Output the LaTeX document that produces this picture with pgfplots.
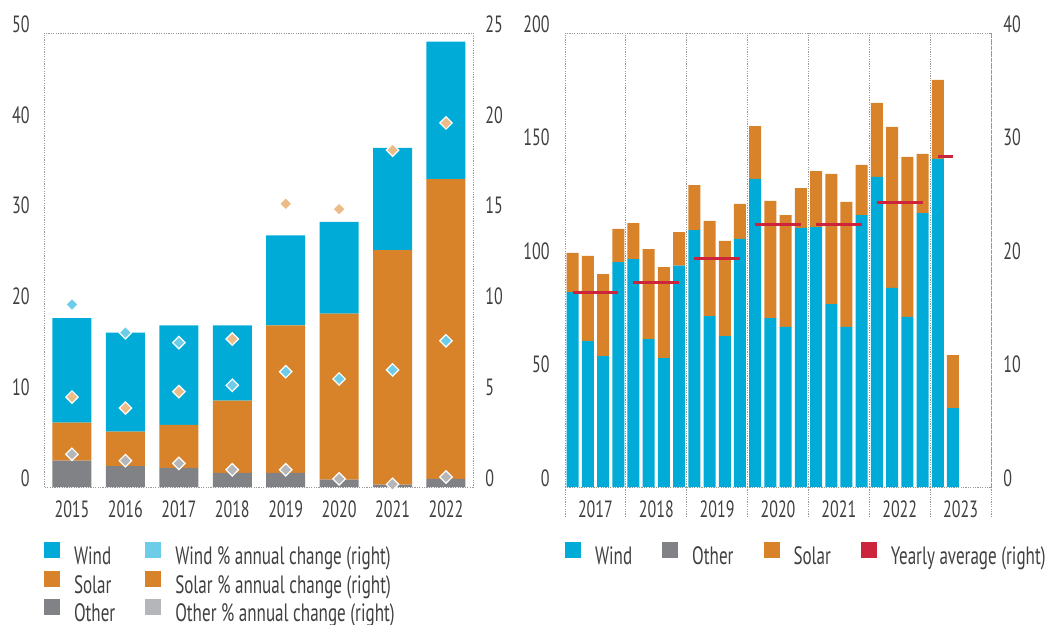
\documentclass[border=0pt]{standalone}
\usepackage{fontspec}
\setmainfont{PT Sans}[FakeStretch=0.68]
\usepackage{pgfplots}
\pgfplotsset{compat=1.18}
\definecolor{wind}{HTML}{00ACD7}
\definecolor{solar}{HTML}{D8832A}
\definecolor{other}{HTML}{818286}
\definecolor{windp}{HTML}{6DCDE8}
\definecolor{solarp}{HTML}{EBBB88}
\definecolor{otherp}{HTML}{B5B6BA}
\definecolor{avg}{HTML}{CC243C}
\definecolor{txt}{HTML}{404040}
\definecolor{frm}{HTML}{999999}
\newcommand\tickfont{\fontsize{11.8}{13}\selectfont}
\newcommand\legfont{\fontsize{12.6}{15}\selectfont}
\pgfplotsset{
  base/.style={
    scale only axis, height=227bp, anchor=south west,
    /pgf/number format/assume math mode=true,
    tick label style={font=\tickfont, text=txt, inner sep=0pt},
    major tick length=0pt, ymin=0,
    axis line style={frm, line width=0.5bp, dash pattern=on 0.6bp off 0.6bp},
    xticklabel style={yshift=-6.5bp},
  },
  leg/.style={
    legend style={at={(0,0)}, anchor=north west, yshift=#1,
      draw=none, fill=none, inner sep=0pt, outer sep=0pt,
      font=\legfont, text=txt, row sep=0.3bp,
      nodes={inner sep=0pt, text height=9bp, text depth=2.5bp},
      /tikz/every odd column/.append style={column sep=7bp},
      /tikz/every even column/.append style={column sep=15bp}},
    legend cell align=left,
    legend image code/.code={\path[##1, draw=none] (0bp,0bp) rectangle (8bp,8bp);},
  },
  pmark/.style={only marks, mark=square*, mark size=2.2bp,
    mark options={rotate=45, fill=#1, draw=white, line width=0.6bp}, forget plot},
}
\begin{document}
\begin{tikzpicture}
\useasboundingbox (0,0) rectangle (523bp,-312.5bp);
% ---------------- left chart ----------------
\begin{axis}[base, at={(22bp,-243.5bp)}, width=214.5bp,
  ybar stacked, bar width=19.5bp,
  xmin=2014.476, xmax=2022.506, ymax=50, ytick={0,10,20,30,40,50},
  yticklabel style={xshift=-7bp, yshift=4.5bp},
  xtick={2015,2016,2017,2018,2019,2020,2021,2022},
  xticklabels={2015,2016,2017,2018,2019,2020,2021,2022}]
\addplot[fill=other, draw=none] coordinates {(2015,2.9) (2016,2.3) (2017,2.1) (2018,1.55) (2019,1.55) (2020,0.8) (2021,0.25) (2022,0.9)};
\addplot[fill=solar, draw=none] coordinates {(2015,4.2) (2016,3.8) (2017,4.75) (2018,7.95) (2019,16.25) (2020,18.3) (2021,25.85) (2022,33.0)};
\addplot[fill=wind, draw=none] coordinates {(2015,11.5) (2016,10.9) (2017,10.95) (2018,8.3) (2019,9.9) (2020,10.1) (2021,11.25) (2022,15.15)};
\end{axis}
\begin{axis}[base, leg=-27.7bp, legend columns=2, at={(22bp,-243.5bp)}, width=214.5bp,
  xmin=2014.476, xmax=2022.506, ymax=25, ytick={0,5,10,15,20,25},
  axis y line*=right, axis x line=none, y axis line style={draw=none},
  yticklabel style={xshift=6bp, yshift=4.5bp}]
\addlegendimage{fill=wind, draw=none}\addlegendentry{Wind}
\addlegendimage{fill=windp, draw=none}\addlegendentry{Wind \% annual change (right)}
\addlegendimage{fill=solar, draw=none}\addlegendentry{Solar}
\addlegendimage{fill=solar, draw=none}\addlegendentry{Solar \% annual change (right)}
\addlegendimage{fill=other, draw=none}\addlegendentry{Other}
\addlegendimage{fill=otherp, draw=none}\addlegendentry{Other \% annual change (right)}
\addplot[pmark=windp] coordinates {(2015,10.05) (2016,8.5) (2017,7.95) (2018,5.6) (2019,6.35) (2020,5.95) (2021,6.45) (2022,8.05)};
\addplot[pmark=solarp] coordinates {(2015,4.95) (2016,4.35) (2017,5.25) (2018,8.15) (2019,15.6) (2020,15.3) (2021,18.55) (2022,20.05)};
\addplot[pmark=otherp] coordinates {(2015,1.8) (2016,1.45) (2017,1.3) (2018,0.95) (2019,0.95) (2020,0.45) (2021,0.15) (2022,0.55)};
\end{axis}
% ---------------- right chart ----------------
\begin{axis}[base, at={(282.5bp,-243.5bp)}, width=213bp,
  ybar stacked, bar width=6bp,
  xmin=-0.5, xmax=27.5, ymax=200, ytick={0,50,100,150,200},
  yticklabel style={xshift=-7.5bp, yshift=4.5bp},
  xtick={1.5,5.5,9.5,13.5,17.5,21.5,25.5},
  xticklabels={2017,2018,2019,2020,2021,2022,2023},
  minor xtick={-0.5,3.5,7.5,11.5,15.5,19.5,23.5,27.5},
  xminorgrids, minor grid style={frm, line width=0.5bp, dash pattern=on 0.6bp off 0.6bp},
  minor tick length=15bp, tick align=outside, xtick pos=bottom,
  minor tick style={frm, line width=0.5bp, dash pattern=on 0.6bp off 0.6bp}]
\addplot[fill=wind, draw=none, forget plot] coordinates {
(0,85.9) (1,64.3) (2,57.7) (3,99.1)
(4,100.4) (5,65.2) (6,56.8) (7,97.5)
(8,113.2) (9,75.3) (10,66.5) (11,109.3)
(12,135.7) (13,74.4) (14,70.5) (15,114.1)
(16,114.5) (17,80.6) (18,70.5) (19,119.8)
(20,136.6) (21,87.7) (22,74.9) (23,120.7)
(24,144.5) (25,34.8)};
\addplot[fill=solar, draw=none, forget plot] coordinates {
(0,17.2) (1,37.5) (2,36.1) (3,14.6)
(4,15.9) (5,39.6) (6,40.1) (7,14.8)
(8,19.8) (9,41.9) (10,41.9) (11,15.4)
(12,23.3) (13,51.6) (14,49.3) (15,17.6)
(16,24.7) (17,57.3) (18,55.1) (19,22.1)
(20,32.6) (21,70.9) (22,70.5) (23,26.0)
(24,34.8) (25,23.3)};
\end{axis}
\begin{axis}[base, leg=-27.3bp, legend columns=4, at={(282.5bp,-243.5bp)}, width=213bp,
  xmin=-0.5, xmax=27.5, ymax=40, ytick={0,10,20,30,40},
  axis y line*=right, axis x line=none, y axis line style={draw=none},
  yticklabel style={xshift=6bp, yshift=4.5bp}]
\addlegendimage{fill=wind, draw=none}\addlegendentry{Wind}
\addlegendimage{fill=other, draw=none}\addlegendentry{Other}
\addlegendimage{fill=solar, draw=none}\addlegendentry{Solar}
\addlegendimage{fill=avg, draw=none}\addlegendentry{Yearly average (right)}
\addplot[avg, line width=1.5bp, forget plot] coordinates {(0,17.1) (3,17.1)};
\addplot[avg, line width=1.5bp, forget plot] coordinates {(4,18.06) (7,18.06)};
\addplot[avg, line width=1.5bp, forget plot] coordinates {(8,20.1) (11,20.1)};
\addplot[avg, line width=1.5bp, forget plot] coordinates {(12,23.1) (15,23.1)};
\addplot[avg, line width=1.5bp, forget plot] coordinates {(16,23.1) (19,23.1)};
\addplot[avg, line width=1.5bp, forget plot] coordinates {(20,25.1) (23,25.1)};
\addplot[avg, line width=1.5bp, forget plot] coordinates {(24,29.1) (25,29.1)};
\end{axis}
\end{tikzpicture}
\end{document}
